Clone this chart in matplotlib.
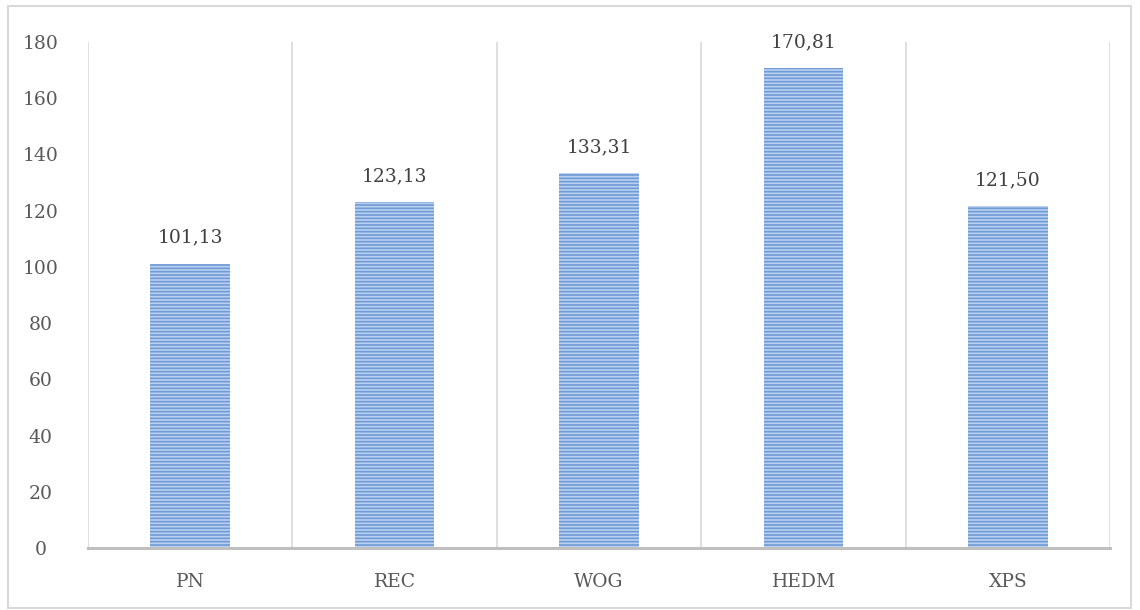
import numpy as np
import matplotlib
matplotlib.use('Agg')
import matplotlib.pyplot as plt
from matplotlib.patches import Rectangle

plt.rcParams['font.family'] = ['DejaVu Serif']
plt.rcParams['hatch.linewidth'] = 1.2
plt.rcParams['hatch.color'] = '#6b97d4'

categories = ['PN', 'REC', 'WOG', 'HEDM', 'XPS']
values = [101.13, 123.13, 133.31, 170.81, 121.50]
value_labels = ['101,13', '123,13', '133,31', '170,81', '121,50']
y_ticks = [0, 20, 40, 60, 80, 100, 120, 140, 160, 180]

fig = plt.figure(figsize=(11.4, 6.1), dpi=100)
ax = fig.add_axes([0.077, 0.1016, 0.897, 0.8296])

x = np.arange(len(categories))
ax.bar(x, values, width=0.39, color='#b9d0ee', edgecolor='#6f9bd6',
       hatch='-----', linewidth=0, zorder=3)

for xi, v, lab in zip(x, values, value_labels):
    ax.text(xi, v + 6, lab, ha='center', va='bottom', fontsize=13.5, color='#404040')

ax.set_xlim(-0.5, len(categories) - 0.5)
ax.set_ylim(0, 180)
ax.set_yticks(y_ticks)
ax.set_xticks(x)
ax.set_xticklabels(categories)

# vertical separators between categories
for b in np.arange(-0.5, len(categories) + 0.5, 1):
    ax.axvline(b, color='#d9d9d9', lw=1.2, zorder=1)

for s in ['top', 'right', 'left']:
    ax.spines[s].set_visible(False)
ax.spines['bottom'].set_color('#bfbfbf')
ax.spines['bottom'].set_linewidth(2.2)
ax.spines['bottom'].set_zorder(4)

ax.tick_params(axis='y', length=0, pad=34, labelsize=13.5, labelcolor='#595959')
ax.tick_params(axis='x', length=0, pad=18, labelsize=13.5, labelcolor='#595959')
for t in ax.get_yticklabels():
    t.set_horizontalalignment('center')

fig.patches.append(Rectangle((0.007, 0.004), 0.985, 0.986, transform=fig.transFigure,
                             fill=False, edgecolor='#d9d9d9', lw=1.5))

fig.savefig('out.png', dpi=100)
